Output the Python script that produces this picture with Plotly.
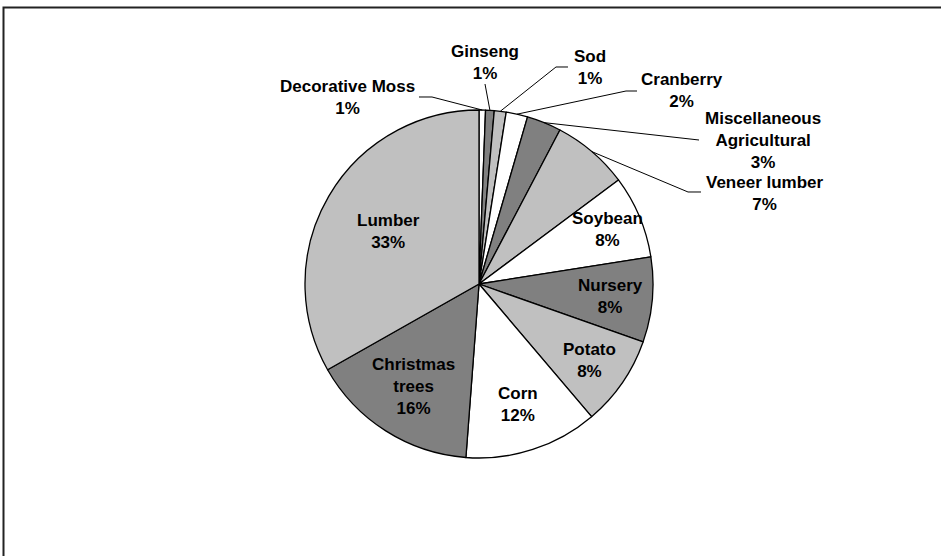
import math
import plotly.graph_objects as go

# ---- data ----
categories = ["Decorative Moss", "Ginseng", "Sod", "Cranberry",
              "Miscellaneous Agricultural", "Veneer lumber", "Soybean",
              "Nursery", "Potato", "Corn", "Christmas trees", "Lumber"]
values = [0.6, 0.8, 1.1, 2.0, 3.2, 7.1, 7.7, 7.9, 8.4, 12.4, 15.6, 33.2]
label_text = ["Decorative Moss", "Ginseng", "Sod", "Cranberry",
              "Miscellaneous<br>Agricultural", "Veneer lumber", "Soybean",
              "Nursery", "Potato", "Corn", "Christmas<br>trees", "Lumber"]

# ---- styles / layout ----
slice_colors = ["#FFFFFF", "#808080", "#C0C0C0"] * 4
W, H = 941, 556
CX, CY, R = 479, 284, 174
FONT = dict(family="Liberation Sans", size=17, color="black", weight="bold")

# outside labels: text centre and leader-line elbow points (pixels)
outside_pos = {
    "Decorative Moss": ((347, 97), [(419, 97), (432, 97)]),
    "Ginseng": ((485, 63), [(485, 84)]),
    "Sod": ((590, 67), [(568, 67), (556, 67)]),
    "Cranberry": ((682, 91), [(637, 91), (626, 91)]),
    "Miscellaneous Agricultural": ((763, 140), [(699, 140)]),
    "Veneer lumber": ((765, 193), [(701, 192), (688, 192)]),
}
# inside labels: radial fraction along the slice's mid-angle
inside_frac = {
    "Soybean": 0.80, "Nursery": 0.76, "Potato": 0.77,
    "Corn": 0.73, "Christmas trees": 0.70, "Lumber": 0.60,
}


def px(x):
    return x / W


def py(y):
    return 1 - y / H


total = sum(values)

fig = go.Figure(go.Pie(
    labels=categories,
    values=values,
    textinfo="none",
    sort=False,
    direction="clockwise",
    rotation=0,
    marker=dict(colors=slice_colors, line=dict(color="black", width=1.3)),
    domain=dict(x=[px(CX - R), px(CX + R)], y=[py(CY + R), py(CY - R)]),
    showlegend=False,
    hoverinfo="label+percent",
))

shapes = []
annotations = []
cum = 0.0
for cat, v, txt in zip(categories, values, label_text):
    mid = (cum + v / 2) / total * 2 * math.pi
    cum += v
    pct = round(v / total * 100)
    full = f"{txt}<br>{pct}%"
    if cat in outside_pos:
        (tx, ty), elbows = outside_pos[cat]
        rx = CX + R * math.sin(mid)
        ry = CY - R * math.cos(mid)
        pts = [(rx, ry)] + elbows[::-1]
        path = "M " + " L ".join(f"{px(x):.5f},{py(y):.5f}" for x, y in pts)
        shapes.append(dict(type="path", xref="paper", yref="paper", path=path,
                           line=dict(color="black", width=1)))
    else:
        f = inside_frac[cat]
        tx = CX + f * R * math.sin(mid)
        ty = CY - f * R * math.cos(mid)
    annotations.append(dict(x=px(tx), y=py(ty), xref="paper", yref="paper",
                            text=full, showarrow=False,
                            xanchor="center", yanchor="middle", align="center",
                            font=FONT))

# chart-area frame (extends past the right and bottom edges)
shapes.append(dict(type="rect", xref="paper", yref="paper",
                   x0=px(3.5), y0=py(7.5), x1=1.05, y1=-0.05,
                   line=dict(color="#222222", width=2), layer="below"))

fig.update_layout(
    width=W, height=H,
    margin=dict(l=0, r=0, t=0, b=0, pad=0),
    paper_bgcolor="white", plot_bgcolor="white",
    shapes=shapes, annotations=annotations,
)

fig.write_html("out.html")
